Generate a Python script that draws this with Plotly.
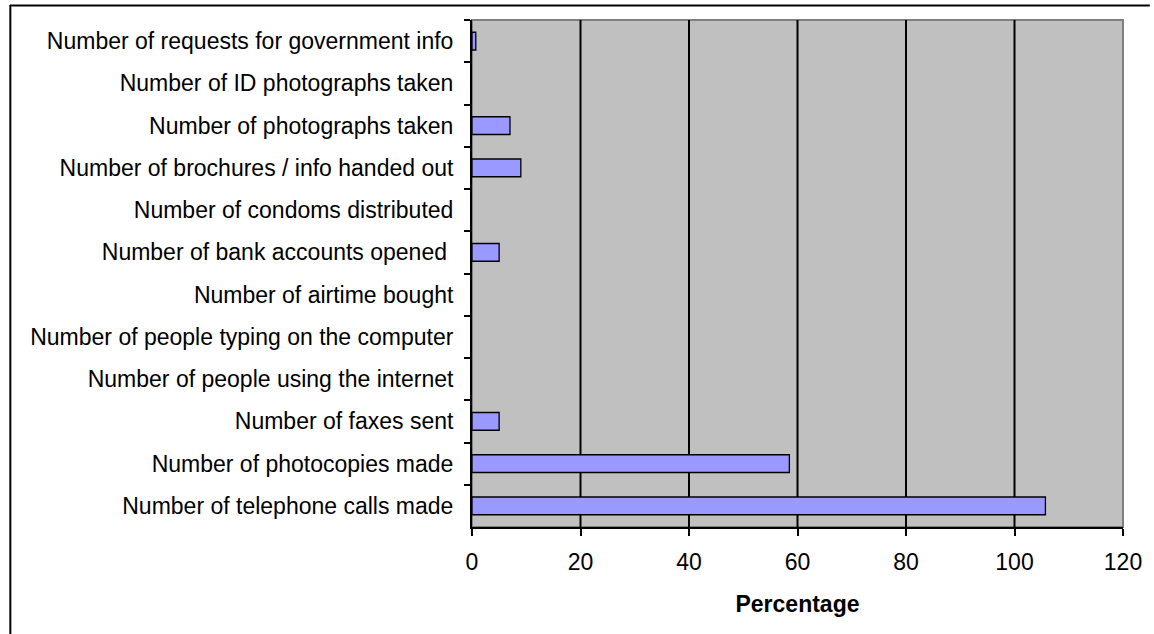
import plotly.graph_objects as go

categories = [
    "Number of requests for government info",
    "Number of ID photographs taken",
    "Number of photographs taken",
    "Number of brochures / info handed out",
    "Number of condoms distributed",
    "Number of bank accounts opened\u00a0",
    "Number of airtime bought",
    "Number of people typing on the computer",
    "Number of people using the internet",
    "Number of faxes sent",
    "Number of photocopies made",
    "Number of telephone calls made",
]
values = [0.7, 0, 7, 9, 0, 5, 0, 0, 0, 5, 58.5, 105.7]
x_ticks = [0, 20, 40, 60, 80, 100, 120]

W, H = 1154, 634
L, R, T, B = 472, 27, 20, 107
pw, ph = W - L - R, H - T - B

def px(x):
    return (x - L) / pw

def py(y):
    return (H - B - y) / ph

fig = go.Figure(go.Bar(
    x=values, y=categories, orientation="h",
    marker=dict(color="#9999FF",
                line=dict(color="black", width=[1.3 if v > 0 else 0 for v in values])),
    width=0.42,
))

shapes = [
    dict(type="rect", xref="paper", yref="paper", x0=0, x1=1, y0=0, y1=1,
         line=dict(color="#808080", width=2), fillcolor="rgba(0,0,0,0)", layer="below"),
    dict(type="line", xref="paper", yref="paper", x0=px(7), x1=px(W), y0=py(5.5), y1=py(5.5),
         line=dict(color="black", width=2)),
    dict(type="line", xref="paper", yref="paper", x0=px(7.5), x1=px(7.5), y0=py(5), y1=py(H),
         line=dict(color="black", width=2)),
]
for v in x_ticks[1:-1]:
    shapes.append(dict(type="line", xref="x", yref="paper", x0=v, x1=v, y0=0, y1=1,
                       line=dict(color="black", width=2), layer="below"))

font = dict(family="Liberation Sans, Arial, sans-serif", size=23, color="black")

fig.update_layout(
    width=W, height=H,
    margin=dict(l=L, r=R, t=T, b=B, pad=0),
    paper_bgcolor="white", plot_bgcolor="#C0C0C0",
    font=font, showlegend=False, shapes=shapes,
    xaxis=dict(
        range=[0, 120], tickvals=x_ticks, ticktext=[str(v) for v in x_ticks],
        showgrid=False,
        zeroline=False, showline=True, linecolor="black", linewidth=2,
        ticks="outside", ticklen=7, tickwidth=2, tickcolor="black",
        ticklabelstandoff=6,
        title=dict(text="<b>Percentage</b>", font=dict(size=23), standoff=22),
    ),
    yaxis=dict(
        autorange="reversed", type="category", tickson="boundaries",
        showgrid=False, zeroline=False, showline=True, linecolor="black", linewidth=2,
        ticks="outside", ticklen=6, tickwidth=2, tickcolor="black",
        ticklabelstandoff=12,
    ),
)

fig.write_html("out.html")
